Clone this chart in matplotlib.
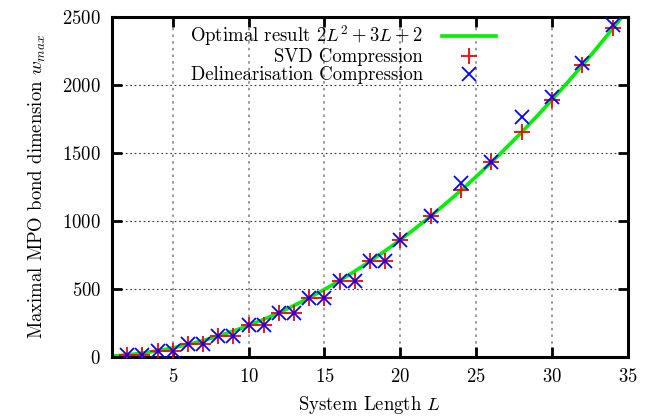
import numpy as np
import matplotlib
matplotlib.use("Agg")
import matplotlib.pyplot as plt

# system lengths where compressions were run
L_vals = [2, 3, 4, 5, 6, 7, 8, 9, 10, 11, 12, 13, 14, 15, 16, 17, 18, 19, 20,
          22, 24, 26, 28, 30, 32, 34]
svd_w = [16, 16, 46, 46, 92, 92, 154, 154, 232, 232, 326, 326, 436, 436,
         562, 562, 704, 704, 862, 1036, 1226, 1432, 1654, 1892, 2146, 2416]
delin_w = [16, 16, 46, 46, 92, 92, 154, 154, 232, 232, 326, 326, 436, 436,
           562, 562, 704, 704, 862, 1036, 1280, 1432, 1765, 1910, 2165, 2440]
# optimal result 2L^2 + 3L + 2
opt_coeffs = [2, 3, 2]

plt.rcParams['font.family'] = 'cmr10'
plt.rcParams['mathtext.fontset'] = 'cm'
plt.rcParams['axes.formatter.use_mathtext'] = True

fig = plt.figure(figsize=(6.52, 4.16), dpi=100)
ax = fig.add_axes([0.1718, 0.1418, 0.7914, 0.8173])

Lfine = np.linspace(1, 35, 300)
ax.plot(Lfine, np.polyval(opt_coeffs, Lfine), color='#00ee00', lw=2.6,
        label=r'Optimal result $2L^2 + 3L + 2$', zorder=2)
ax.plot(L_vals, svd_w, ls='none', marker='+', color='red', ms=11, mew=1.3,
        label='SVD Compression', zorder=3)
ax.plot(L_vals, delin_w, ls='none', marker='x', color='blue', ms=10, mew=1.3,
        label='Delinearisation Compression', zorder=4)

ax.set_xlim(1, 35)
ax.set_ylim(0, 2500)
ax.set_xticks([5, 10, 15, 20, 25, 30, 35])
ax.set_yticks([0, 500, 1000, 1500, 2000, 2500])

ax.xaxis.grid(True, ls=(0, (1.5, 2.5)), color='#888888', lw=1.2)
ax.yaxis.grid(True, ls=(0, (1.5, 2.5)), color='#333333', lw=0.8)
ax.set_axisbelow(True)

ax.tick_params(direction='in', length=7, width=2, top=True, right=True,
               labelsize=13.5, pad=8)
for s in ax.spines.values():
    s.set_linewidth(2.2)

ax.set_xlabel('System Length $L$', fontsize=13.5, labelpad=6)
ax.set_ylabel('Maximal MPO bond dimension $w_{max}$', fontsize=13.5, labelpad=10)

leg = ax.legend(loc='upper right', bbox_to_anchor=(0.77, 1.02), frameon=False,
                markerfirst=False, fontsize=13.5, handlelength=2.9,
                labelspacing=0.0, handletextpad=1.0, borderpad=0.2)

fig.savefig('out.png', dpi=100)
